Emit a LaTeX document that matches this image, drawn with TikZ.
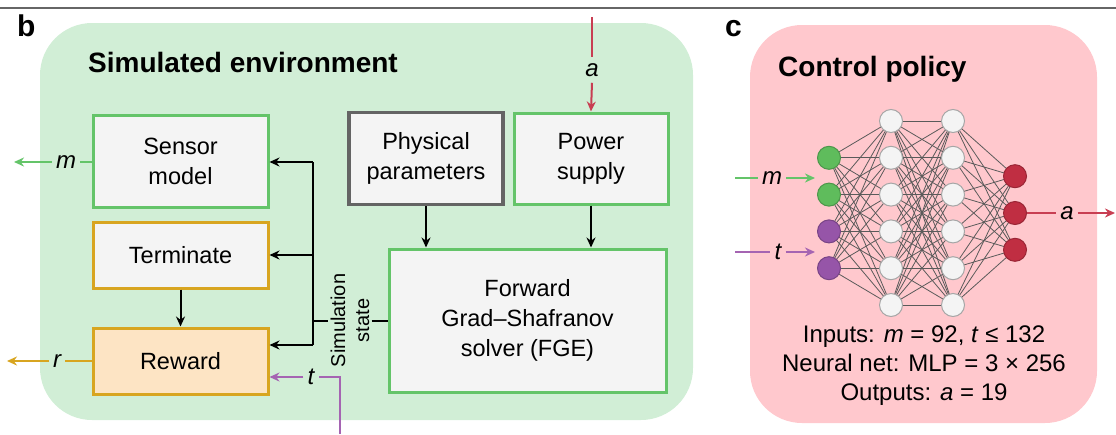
\documentclass[tikz,border=0pt]{standalone}
\usepackage{fontspec}
\setmainfont{Liberation Sans}
\usetikzlibrary{arrows.meta}
\definecolor{envbg}{RGB}{209,238,214}
\definecolor{polbg}{RGB}{255,200,205}
\definecolor{boxfill}{RGB}{244,244,244}
\definecolor{grn}{RGB}{100,196,105}
\definecolor{gold}{RGB}{216,165,32}
\definecolor{rewfill}{RGB}{253,228,196}
\definecolor{redc}{RGB}{200,62,82}
\definecolor{purp}{RGB}{165,100,178}
\definecolor{ngreen}{RGB}{95,188,92}
\definecolor{npurp}{RGB}{150,85,168}
\definecolor{nred}{RGB}{192,46,66}
\definecolor{physb}{RGB}{100,100,100}
\definecolor{nnedge}{RGB}{90,90,90}
\newcommand\myfs[2]{\fontsize{#1}{#2}\selectfont}
\begin{document}
\begin{tikzpicture}[x=1pt,y=-1pt,
  blk/.style={draw, line width=3pt, fill=boxfill, inner sep=0pt, align=center, font=\myfs{23.5}{30}},
  lbl/.style={inner sep=4pt, font=\myfs{24}{24}\itshape},
  tip/.style={-{Stealth[length=10pt,width=9pt]}},
  conn/.style={line width=2pt},
  neur/.style={circle, draw=gray!70, line width=1pt, minimum size=23pt, inner sep=0pt, fill=#1},
  ttl/.style={anchor=base west, inner sep=0pt, font=\bfseries\myfs{28}{28}}
]
\useasboundingbox (0,0) rectangle (1116,434);
% top rule
\draw[line width=1.5pt, gray!80!black] (0,8) -- (1116,8);
% panel labels
\node[anchor=base west, inner sep=0pt, font=\bfseries\myfs{30}{30}] (lb) at (17,36) {b};
\node[anchor=base west, inner sep=0pt, font=\bfseries\myfs{30}{30}] (lc) at (725,36) {c};

% ===== panel b =====
\fill[envbg, rounded corners=52pt] (40,23) rectangle (693,420);
\node[ttl] (envt) at (88,72) {Simulated environment};

\node[blk, draw=grn, minimum width=175pt, minimum height=92pt] (sensor) at (180.5,161.5) {Sensor\\model};
\node[blk, draw=gold, minimum width=175pt, minimum height=66pt] (term) at (180.5,255) {Terminate};
\node[blk, draw=gold, fill=rewfill, minimum width=175pt, minimum height=66pt] (rew) at (180.5,361) {Reward};
\node[blk, draw=physb, line width=3.5pt, minimum width=154pt, minimum height=92pt] (phys) at (426,158.5) {Physical\\parameters};
\node[blk, draw=grn, minimum width=154pt, minimum height=91pt] (pow) at (591,158.5) {Power\\supply};
\node[blk, draw=grn, minimum width=277pt, minimum height=143pt] (fge) at (527.5,320.5) {Forward\\Grad--Shafranov\\solver (FGE)};

% bus
\coordinate (b1) at (313,162);
\coordinate (b2) at (313,255);
\coordinate (b3) at (313,345);
\coordinate (bs) at (313,320.5);
\draw[conn] (b1) -- (b3);
\draw[conn, tip] (b1) -- (b1 -| sensor.east);
\draw[conn, tip] (b2) -- (b2 -| term.east);
\draw[conn, tip] (b3) -- (b3 -| rew.east);
\draw[conn, tip] (term.south) -- (rew.north);
\node[rotate=90, align=center, inner sep=2pt, font=\myfs{20}{24}] (simst) at (350,320.5) {Simulation\\state};
\draw[conn] (bs) -- (simst.north);
\draw[conn] (simst.south) -- (fge.west);
\draw[conn, tip] (phys.south) -- (phys.south |- fge.north);
\draw[conn, tip] (pow.south) -- (pow.south |- fge.north);

% m output
\node[lbl] (mlab) at (66,162) {m};
\coordinate (mout) at (14,162);
\draw[conn, grn] (sensor.west |- mlab) -- (mlab.east);
\draw[conn, grn, tip] (mlab.west) -- (mout);
% r output
\node[lbl] (rlab) at (57,361) {r};
\coordinate (rout) at (7,361);
\draw[conn, gold] (rew.west) -- (rlab.east);
\draw[conn, gold, tip] (rlab.west) -- (rout);
% t input
\node[lbl] (tlab) at (311,377) {t};
\coordinate (tin) at (340,434);
\draw[conn, purp] (tin) |- (tlab.east);
\draw[conn, purp, tip] (tlab.west) -- (tlab.west -| rew.east);
% a input
\node[lbl, inner sep=6pt] (alab) at (592,70) {a};
\coordinate (ain) at (592,17);
\draw[conn, redc] (ain) -- (alab.north);
\draw[conn, redc, tip] (alab.south) -- (pow.north);

% ===== panel c =====
\fill[polbg, rounded corners=52pt] (750,25) rectangle (1097,423);
\node[ttl] (polt) at (778,76) {Control policy};

% neuron positions
\foreach \k in {0,...,5} {
  \coordinate (h1\k) at (891,{121+36.8*\k});
  \coordinate (h2\k) at (953,{121+36.8*\k});
}
\foreach \k in {1,...,4} {
  \coordinate (in\k) at (829,{121+36.8*\k});
}
\foreach \k in {1,2,3} {
  \coordinate (o\k) at (1015,{121+36.8*\k+18.4});
}
% edges
\foreach \i in {1,...,4} \foreach \j in {0,...,5}
  \draw[nnedge, line width=0.8pt] (in\i) -- (h1\j);
\foreach \i in {0,...,5} \foreach \j in {0,...,5}
  \draw[nnedge, line width=0.8pt] (h1\i) -- (h2\j);
\foreach \i in {0,...,5} \foreach \j in {1,2,3}
  \draw[nnedge, line width=0.8pt] (h2\i) -- (o\j);
% neurons on top
\foreach \k in {0,...,5} {
  \node[neur=boxfill] (nh1\k) at (h1\k) {};
  \node[neur=boxfill] (nh2\k) at (h2\k) {};
}
\foreach \k/\c in {1/ngreen,2/ngreen,3/npurp,4/npurp} {
  \node[neur=\c, draw=\c!80!black] (nin\k) at (in\k) {};
}
\foreach \k in {1,2,3} {
  \node[neur=nred, draw=nred!80!black] (no\k) at (o\k) {};
}

% inputs/outputs
\node[lbl] (mlab2) at (772,178) {m};
\coordinate (min) at (735,178);
\coordinate (mend) at (815,178);
\draw[conn, grn] (min) -- (mlab2.west);
\draw[conn, grn, tip] (mlab2.east) -- (mend);
\node[lbl] (tlab2) at (778,252) {t};
\coordinate (tin2) at (735,252);
\coordinate (tend) at (815,252);
\draw[conn, purp] (tin2) -- (tlab2.west);
\draw[conn, purp, tip] (tlab2.east) -- (tend);
\node[lbl] (alab2) at (1067,213) {a};
\coordinate (aout) at (1115,213);
\draw[conn, redc] (no2.east) -- (alab2.west);
\draw[conn, redc, tip] (alab2.east) -- (aout);

\node[align=center, font=\myfs{24}{29}, inner sep=0pt] (info) at (924,366)
  {Inputs: \textit{m} = 92, \textit{t} ≤ 132\\Neural net: MLP = 3 × 256\\Outputs: \textit{a} = 19};
\end{tikzpicture}
\end{document}
